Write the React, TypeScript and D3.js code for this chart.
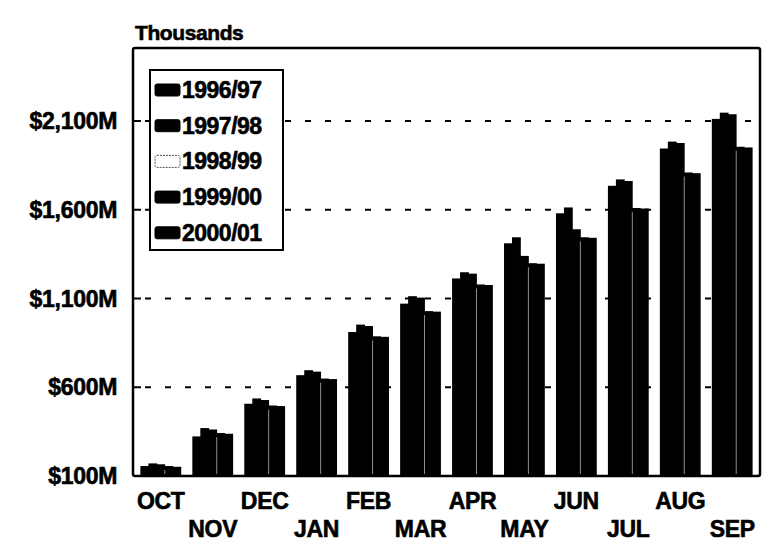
import React from "react";
import * as d3 from "d3";

const months = ["OCT", "NOV", "DEC", "JAN", "FEB", "MAR", "APR", "MAY", "JUN", "JUL", "AUG", "SEP"];
const seriesNames = ["1996/97", "1997/98", "1998/99", "1999/00", "2000/01"];
const fy9697 = [156, 323, 507, 668, 911, 1071, 1213, 1411, 1580, 1735, 1945, 2112];
const fy9798 = [171, 370, 537, 696, 953, 1113, 1248, 1445, 1613, 1771, 1984, 2147];
const fy9899 = [166, 362, 528, 688, 945, 1105, 1240, 1340, 1490, 1762, 1976, 2138];
const fy9900 = [156, 342, 497, 649, 887, 1029, 1179, 1299, 1445, 1610, 1810, 1955];
const fy0001 = [152, 338, 494, 646, 884, 1026, 1176, 1296, 1442, 1607, 1806, 1951];
const yTicks = [100, 600, 1100, 1600, 2100];
const yTickLabels = ["$100M", "$600M", "$1,100M", "$1,600M", "$2,100M"];
const barFills = ["#000", "#000", "#000", "#000", "#000"];
const legendFills = ["#000", "#000", "#fff", "#000", "#000"];

const W = 765;
const H = 541;
const FONT = "'Liberation Sans', Arial, Helvetica, sans-serif";

export default function App() {
  const series = [fy9697, fy9798, fy9899, fy9900, fy0001];
  const left = 133, right = 760, top = 50, bottom = 476;
  const x0 = d3.scaleBand<string>().domain(months).range([left, right]).paddingInner(0.23).paddingOuter(0.15);
  const x1 = d3.scaleBand<string>().domain(seriesNames).range([0, x0.bandwidth()]).padding(0);
  const y = d3.scaleLinear().domain([100, 2500]).range([bottom, top]);
  const bold = { fontFamily: FONT, fontWeight: 900 as any, fill: "#000", stroke: "#000", strokeWidth: 0.6 };

  return (
    <svg width={W} height={H} style={{ position: "absolute", left: 0, top: 0, background: "#fff" }}>
      <rect x={0} y={0} width={W} height={H} fill="#fff" />
      <text x={135} y={40} fontSize={21} {...bold} letterSpacing={-0.4}>Thousands</text>
      {yTicks.slice(1).map((t) => (
        <line key={t} x1={left} x2={right} y1={y(t)} y2={y(t)} stroke="#000" strokeWidth={2} strokeDasharray="6 14" strokeDashoffset={8} />
      ))}
      {yTicks.map((t, i) => (
        <text key={t} x={117} y={y(t) + 8} textAnchor="end" fontSize={23} {...bold} letterSpacing={-0.3}>{yTickLabels[i]}</text>
      ))}
      {yTicks.slice(1).map((t) => (
        <line key={"tk" + t} x1={left} x2={left + 8} y1={y(t)} y2={y(t)} stroke="#000" strokeWidth={2} />
      ))}
      {months.map((m, mi) => (
        <g key={m} transform={`translate(${x0(m)},0)`}>
          {seriesNames.map((s, si) => {
            const v = series[si][mi];
            return (
              <rect key={s} x={(x1(s) as number) - 0.4} y={y(v)} width={x1.bandwidth() + 0.8} height={bottom - y(v)}
                fill={barFills[si]} />
            );
          })}
          <line x1={x1(seriesNames[3])} x2={x1(seriesNames[3])} y1={y(series[3][mi]) + 4} y2={bottom - 2} stroke="#fff" strokeWidth={0.8} opacity={0.7} />
        </g>
      ))}
      <rect x={left} y={top - 2} width={right - left} height={bottom - top + 2} fill="none" stroke="#000" strokeWidth={2.5} rx={2} />
      {months.map((m, i) => (
        <text key={m} x={(x0(m) as number) + x0.bandwidth() / 2} y={i % 2 === 0 ? 509 : 537} textAnchor="middle"
          fontSize={23} {...bold} letterSpacing={-0.3}>{m}</text>
      ))}
      <rect x={150} y={70} width={133} height={180} fill="#fff" stroke="#000" strokeWidth={2} />
      {seriesNames.map((s, i) => {
        const cy = 90 + i * 35.7;
        return (
          <g key={s}>
            <rect x={155} y={cy - 6} width={25} height={12} rx={2} fill={legendFills[i]}
              stroke={legendFills[i] === "#fff" ? "#555" : "#000"} strokeWidth={1} strokeDasharray={legendFills[i] === "#fff" ? "2 1" : undefined} />
            <text x={182} y={cy + 8} fontSize={23} {...bold} letterSpacing={-0.5}>{s}</text>
          </g>
        );
      })}
    </svg>
  );
}
